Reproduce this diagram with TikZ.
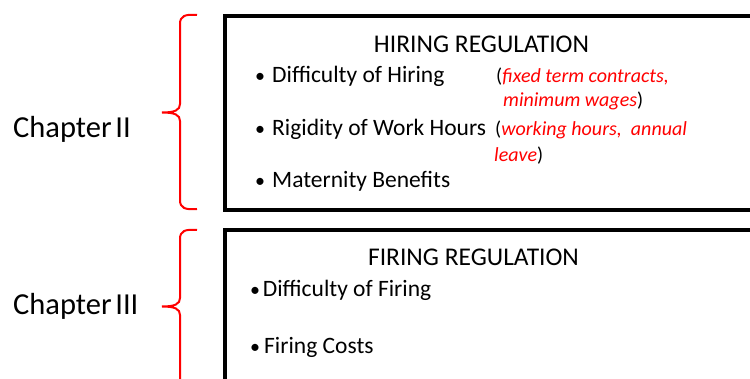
\documentclass[tikz,border=0pt]{standalone}
\usepackage{fontspec}
\setmainfont{Carlito}
\begin{document}
\begin{tikzpicture}[x=1pt,y=-1pt,
  chap/.style={anchor=base west,inner sep=0pt,font=\fontsize{30.5}{36}\selectfont},
  head/.style={anchor=base,inner sep=0pt,font=\fontsize{25.5}{30}\selectfont},
  item/.style={anchor=base west,inner sep=0pt,font=\fontsize{23.5}{28}\selectfont},
  bul/.style={anchor=base,inner sep=0pt,font=\fontsize{20}{24}\selectfont},
  note/.style={anchor=base west,inner sep=0pt,font=\fontsize{20}{24}\selectfont},
  regbox/.style={draw=black,line width=4pt},
  brace/.style={draw=red,line width=2pt}]
\useasboundingbox (0,0) rectangle (750,379);
% boxes
\begin{scope}
\clip (0,0) rectangle (750,379);
\path[regbox] (225,16.5) rectangle (770,210);
\path[regbox] (225,230) rectangle (770,400);
% braces
\path[brace] (197,15) .. controls (185,14) and (180,16) .. (180,24) -- (180,104)
  .. controls (180,110) and (175,112.5) .. (162,112.5)
  .. controls (175,112.5) and (180,115) .. (180,121) -- (180,200)
  .. controls (180,208) and (185,210) .. (197,209);
\path[brace] (197,230) .. controls (185,229) and (180,231) .. (180,239) -- (180,298)
  .. controls (180,304) and (175,306.5) .. (162,306.5)
  .. controls (175,306.5) and (180,309) .. (180,315) -- (180,390);
\end{scope}
% chapter labels
\node[chap] (c2) at (13,138) {Chapter\hspace{0.12em}II};
\node[chap] (c3) at (13,315) {Chapter\hspace{0.12em}III};
% hiring box
\node[head] (h1) at (481.5,53) {HIRING REGULATION};
\node[bul] (b1) at (260,83) {•};
\node[item] (i1) at (272,83) {Difficulty of Hiring};
\node[note] (n1) at (496,83) {(\textcolor{red}{\itshape fixed term contracts,}};
\node[note] (n1b) at (503,106.7) {\textcolor{red}{\itshape minimum wages})};
\node[bul] (b2) at (260,136) {•};
\node[item] (i2) at (272,136) {Rigidity of Work Hours};
\node[note] (n2) at (495,136) {(\textcolor{red}{\itshape working hours,\ \ annual}};
\node[note] (n2b) at (494,161.7) {\textcolor{red}{\itshape leave})};
\node[bul] (b3) at (260,188) {•};
\node[item] (i3) at (272,188) {Maternity Benefits};
% firing box
\node[head] (h2) at (473.5,266) {FIRING REGULATION};
\node[bul] (b4) at (255,296.7) {•};
\node[item] (i4) at (262.7,296.7) {Difficulty of Firing};
\node[bul] (b5) at (255,353.3) {•};
\node[item] (i5) at (264,353.3) {Firing Costs};
\end{tikzpicture}
\end{document}
